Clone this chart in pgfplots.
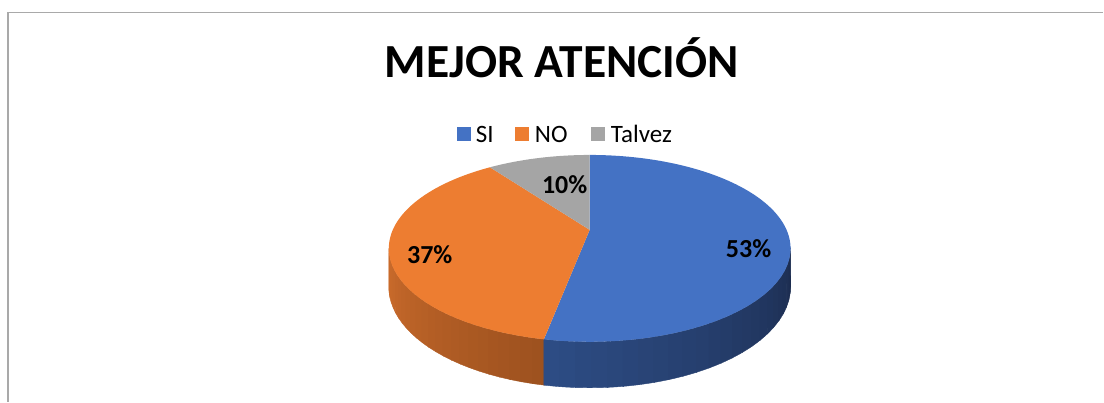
\documentclass[border=0pt]{standalone}
\usepackage{pgfplots}
\pgfplotsset{compat=1.18}
\usepackage{pgfplotstable}
\usepackage{fontspec}
\setmainfont{Carlito}
\definecolor{siblue}{HTML}{4472C4}
\definecolor{noorange}{HTML}{ED7D31}
\definecolor{tgray}{HTML}{A5A5A5}
\definecolor{bsideL}{HTML}{2D4C84}
\definecolor{bsideR}{HTML}{1C2D50}
\definecolor{osideL}{HTML}{CC6C2C}
\definecolor{osideR}{HTML}{9E521F}
\definecolor{framegray}{HTML}{A9A9A9}

\pgfplotstableread{
label value
SI 53
NO 37
Talvez 10
}\piedata
\pgfplotstablegetelem{0}{value}\of\piedata \let\vSI\pgfplotsretval
\pgfplotstablegetelem{1}{value}\of\piedata \let\vNO\pgfplotsretval
\pgfplotstablegetelem{2}{value}\of\piedata \let\vTV\pgfplotsretval
\pgfmathsetmacro{\aA}{90}
\pgfmathsetmacro{\aB}{90-3.6*\vSI}
\pgfmathsetmacro{\aC}{\aB-3.6*\vNO}
\pgfmathsetmacro{\aD}{\aC-3.6*\vTV}
% side strips (visible side from -168.6 to -11.4 deg)
\pgfmathsetmacro{\dB}{(-11.4-\aB)/24}
\pgfmathsetmacro{\dO}{(\aB+168.6)/24}

\begin{document}
\begin{tikzpicture}
\begin{axis}[
  width=1104pt, height=403pt, scale only axis,
  xmin=0, xmax=1104, ymin=0, ymax=403,
  hide axis, clip=false,
  declare function={
    dd(\a)=1+0.198*sin(\a);
    px(\a)=590+197*cos(\a)/dd(\a);
    py(\a)=173+89.8*sin(\a)/dd(\a);
    pb(\a)=py(\a)-36.9/dd(\a);
    ang(\t,\s,\e)=(\t<=1)*(\s+\t*(\e-\s))+(\t>1)*(\e-(\t-1)*(\e-\s));
    sx(\t,\s,\e)=px(ang(\t,\s,\e));
    sy(\t,\s,\e)=(\t<=1)*py(ang(\t,\s,\e))+(\t>1)*pb(ang(\t,\s,\e));
  },
]
% frame
\draw[framegray, line width=1.2pt] (axis cs:8,1) -- (axis cs:8,390.5);
\draw[framegray, line width=1.2pt] (axis cs:8,390.5) -- (axis cs:1104,390.5);

% side faces (gradient as narrow strips)
\pgfplotsinvokeforeach{0,...,23}{
  \addplot[fill={osideR!\the\numexpr#1*100/23\relax!osideL}, draw={osideR!\the\numexpr#1*100/23\relax!osideL}, line width=0.4pt, domain=0:2, samples=21, variable=\t]
    ({sx(t,-168.6+#1*\dO,-168.6+(#1+1)*\dO+0.6)},{sy(t,-168.6+#1*\dO,-168.6+(#1+1)*\dO+0.6)}) -- cycle;
}
\pgfplotsinvokeforeach{0,...,23}{
  \addplot[fill={bsideR!\the\numexpr#1*100/23\relax!bsideL}, draw={bsideR!\the\numexpr#1*100/23\relax!bsideL}, line width=0.4pt, domain=0:2, samples=21, variable=\t]
    ({sx(t,\aB+#1*\dB,\aB+(#1+1)*\dB+0.6)},{sy(t,\aB+#1*\dB,\aB+(#1+1)*\dB+0.6)}) -- cycle;
}

% top wedges
\addplot[fill=siblue, draw=none, domain=\aB:\aA, samples=100, variable=\t] ({px(t)},{py(t)}) -- (axis cs:590,173) -- cycle;
\addplot[fill=noorange, draw=none, domain=\aC:\aB, samples=80, variable=\t] ({px(t)},{py(t)}) -- (axis cs:590,173) -- cycle;
\addplot[fill=tgray, draw=none, domain=\aD:\aC, samples=30, variable=\t] ({px(t)},{py(t)}) -- (axis cs:590,173) -- cycle;

% data labels
\node[font=\fontsize{26}{30}\selectfont\bfseries] at (axis cs:749,154.5) {\vSI\%};
\node[font=\fontsize{26}{30}\selectfont\bfseries] at (axis cs:430,148) {\vNO\%};
\node[font=\fontsize{26}{30}\selectfont\bfseries] at (axis cs:565,218) {\vTV\%};

% title
\node[font=\fontsize{47.5}{54}\selectfont\bfseries, anchor=base] at (axis cs:562,325) {MEJOR ATENCIÓN};

% legend
\fill[siblue] (axis cs:457,261.5) rectangle (axis cs:471,275.5);
\node[font=\fontsize{25}{30}\selectfont, anchor=base west, inner sep=0pt] at (axis cs:476,260.5) {SI};
\fill[noorange] (axis cs:515,261.5) rectangle (axis cs:529,275.5);
\node[font=\fontsize{25}{30}\selectfont, anchor=base west, inner sep=0pt] at (axis cs:535,260.5) {NO};
\fill[tgray] (axis cs:591,261.5) rectangle (axis cs:605,275.5);
\node[font=\fontsize{25}{30}\selectfont, anchor=base west, inner sep=0pt] at (axis cs:611,260.5) {Talvez};
\path (axis cs:0,0) rectangle (axis cs:1104,403);
\end{axis}
\end{tikzpicture}
\end{document}
